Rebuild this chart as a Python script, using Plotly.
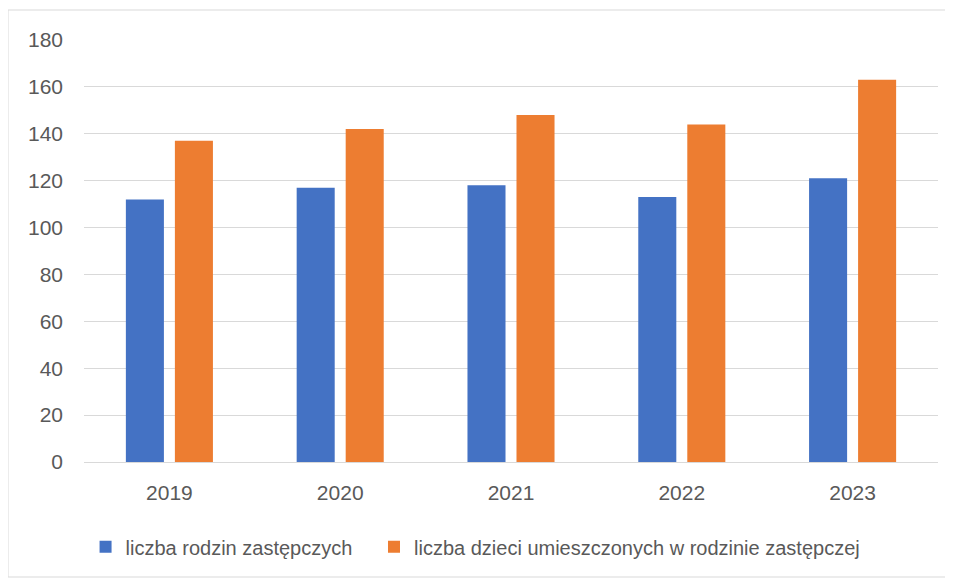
import plotly.graph_objects as go

# Data
years = ["2019", "2020", "2021", "2022", "2023"]
rodziny = [112, 117, 118, 113, 121]
dzieci = [137, 142, 148, 144, 163]
y_ticks = [0, 20, 40, 60, 80, 100, 120, 140, 160, 180]

fig = go.Figure()
# trailing non-breaking spaces widen the gap between the two legend entries
fig.add_trace(go.Bar(x=years, y=rodziny, name="liczba rodzin zastępczych\u00a0\u00a0\u00a0",
                     marker=dict(color="#4472C4", line=dict(width=0))))
fig.add_trace(go.Bar(x=years, y=dzieci, name="liczba dzieci umieszczonych w rodzinie zastępczej",
                     marker=dict(color="#ED7D31", line=dict(width=0))))

# page body has an 8px margin, so the figure is 8px smaller
W, H = 945, 570
ml, mr, mt, mb = 76, 15, 32, 116
pw, ph = W - ml - mr, H - mt - mb

# outer chart border like in Excel
fig.add_shape(type="rect", xref="paper", yref="paper",
              x0=(0 - ml) / pw, x1=(944 - ml) / pw,
              y0=(H - mb - 569) / ph, y1=(H - mb - 2) / ph,
              line=dict(color="#d9d9d9", width=1), layer="below")

fig.update_layout(
    width=W, height=H,
    margin=dict(l=ml, r=mr, t=mt, b=mb),
    paper_bgcolor="white", plot_bgcolor="white",
    barmode="group", bargap=0.426, bargroupgap=0.224,
    font=dict(family="Liberation Sans, Arial", size=21, color="#595959"),
    showlegend=True,
    legend=dict(orientation="h", x=0.4585, xanchor="center", y=-0.201, yanchor="middle",
                font=dict(size=20, color="#595959"), itemwidth=30, traceorder="normal"),
    xaxis=dict(showgrid=False, showline=True, linecolor="#d9d9d9", linewidth=1,
               ticks="", tickfont=dict(size=21, color="#595959"), ticklabelstandoff=12),
    yaxis=dict(range=[0, 180], tickvals=y_ticks, showgrid=True, gridcolor="#d9d9d9",
               gridwidth=1, zeroline=False, showline=False, ticks="",
               tickfont=dict(size=21, color="#595959"), ticklabelstandoff=20),
)

fig.write_html("out.html")
